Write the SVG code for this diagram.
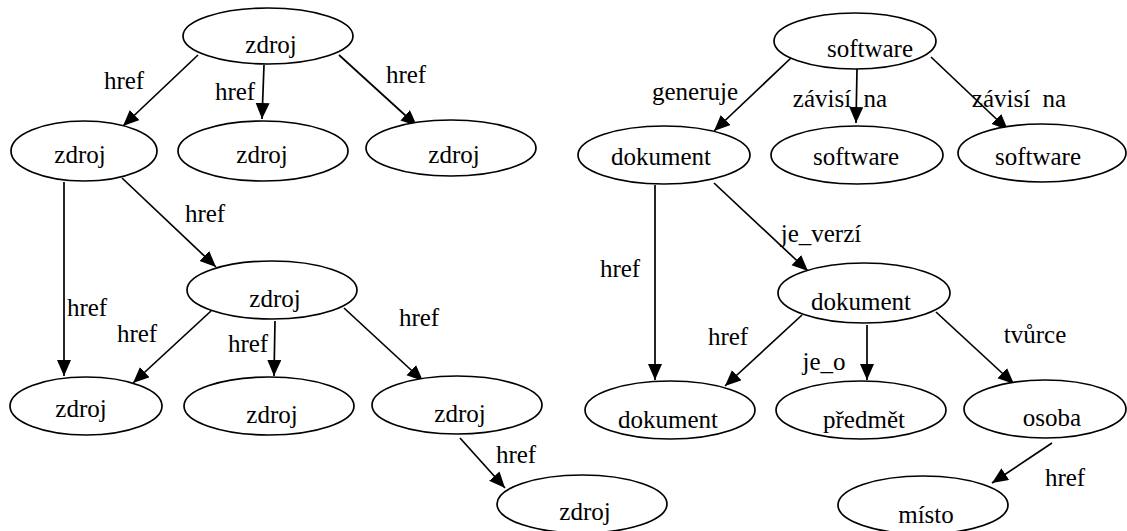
<svg xmlns="http://www.w3.org/2000/svg" width="1127" height="531" viewBox="0 0 1127 531">
<style>
.n ellipse{fill:#fff;stroke:#000;stroke-width:1.7}
text{font-family:"Liberation Serif",serif;font-size:25px;fill:#000;text-anchor:middle}
.c line{stroke:#000;stroke-width:1.7;marker-end:url(#ah)}
</style>
<defs>
<marker id="ah" markerUnits="userSpaceOnUse" markerWidth="18" markerHeight="16" refX="16" refY="7" orient="auto">
<path d="M0,0 L16,7 L0,14 z" fill="#000"/>
</marker>
</defs>
<rect width="1127" height="531" fill="#fff"/>
<g class="c" id="connectors">
<line x1="198" y1="55" x2="123" y2="126"/>
<line x1="264" y1="65" x2="262" y2="119"/>
<line x1="339" y1="55" x2="417" y2="126"/>
<line x1="64" y1="182" x2="64" y2="376"/>
<line x1="122" y1="178" x2="216" y2="267"/>
<line x1="211" y1="311" x2="133" y2="383"/>
<line x1="275" y1="321" x2="274" y2="376"/>
<line x1="344" y1="308" x2="423" y2="381"/>
<line x1="460" y1="438" x2="505" y2="488"/>
<line x1="791" y1="58" x2="714" y2="131"/>
<line x1="857" y1="69" x2="856" y2="123"/>
<line x1="931" y1="57" x2="1008" y2="130"/>
<line x1="655" y1="185" x2="655" y2="380"/>
<line x1="714" y1="183" x2="808" y2="271"/>
<line x1="802" y1="315" x2="725" y2="386"/>
<line x1="867" y1="325" x2="867" y2="380"/>
<line x1="936" y1="312" x2="1014" y2="384"/>
<line x1="1052" y1="443" x2="992" y2="483"/>
</g>
<g id="edge-labels" font-family="Liberation Serif">
<text x="124" y="89" font-family="Liberation Serif">href</text>
<text x="235" y="100" font-family="Liberation Serif">href</text>
<text x="406" y="83" font-family="Liberation Serif">href</text>
<text x="87" y="316" font-family="Liberation Serif">href</text>
<text x="205" y="222" font-family="Liberation Serif">href</text>
<text x="137" y="342" font-family="Liberation Serif">href</text>
<text x="248" y="352" font-family="Liberation Serif">href</text>
<text x="419" y="326" font-family="Liberation Serif">href</text>
<text x="516" y="463" font-family="Liberation Serif">href</text>
<text x="695" y="100" font-family="Liberation Serif">generuje</text>
<text x="840" y="107" font-family="Liberation Serif" xml:space="preserve">závisí  na</text>
<text x="1019" y="107" font-family="Liberation Serif" xml:space="preserve">závisí  na</text>
<text x="620" y="277" font-family="Liberation Serif">href</text>
<text x="821" y="242" font-family="Liberation Serif">je_verzí</text>
<text x="728" y="345" font-family="Liberation Serif">href</text>
<text x="824" y="370" font-family="Liberation Serif">je_o</text>
<text x="1035" y="343" font-family="Liberation Serif">tvůrce</text>
<text x="1065" y="486" font-family="Liberation Serif">href</text>
</g>
<g class="n" id="n1"><ellipse cx="268" cy="36" rx="85" ry="28"/><text x="271" y="53">zdroj</text></g>
<g class="n" id="n2"><ellipse cx="84" cy="151" rx="73" ry="30"/><text x="80" y="163">zdroj</text></g>
<g class="n" id="n3"><ellipse cx="263" cy="151" rx="85" ry="30"/><text x="262" y="163">zdroj</text></g>
<g class="n" id="n4"><ellipse cx="451" cy="148" rx="85" ry="28"/><text x="454" y="163">zdroj</text></g>
<g class="n" id="n5"><ellipse cx="272" cy="290" rx="85" ry="29"/><text x="275" y="307">zdroj</text></g>
<g class="n" id="n6"><ellipse cx="86" cy="406" rx="76" ry="29"/><text x="81" y="417">zdroj</text></g>
<g class="n" id="n7"><ellipse cx="269" cy="406" rx="85" ry="29"/><text x="272" y="423">zdroj</text></g>
<g class="n" id="n8"><ellipse cx="457" cy="405" rx="85" ry="29"/><text x="460" y="422">zdroj</text></g>
<g class="n" id="n9"><ellipse cx="582" cy="504" rx="85" ry="29"/><text x="585" y="520">zdroj</text></g>
<g class="n" id="m1"><ellipse cx="855" cy="41" rx="81" ry="28"/><text x="870" y="57">software</text></g>
<g class="n" id="m2"><ellipse cx="664" cy="155" rx="86" ry="29"/><text x="661" y="165">dokument</text></g>
<g class="n" id="m3"><ellipse cx="857" cy="155" rx="86" ry="29"/><text x="856" y="165">software</text></g>
<g class="n" id="m4"><ellipse cx="1042" cy="153" rx="84" ry="29"/><text x="1038" y="165">software</text></g>
<g class="n" id="m5"><ellipse cx="864" cy="293" rx="86" ry="30"/><text x="861" y="310">dokument</text></g>
<g class="n" id="m6"><ellipse cx="670" cy="410" rx="85" ry="29"/><text x="668" y="428">dokument</text></g>
<g class="n" id="m7"><ellipse cx="861" cy="410" rx="85" ry="29"/><text x="864" y="428">předmět</text></g>
<g class="n" id="m8"><ellipse cx="1045" cy="409" rx="81" ry="29"/><text x="1052" y="426">osoba</text></g>
<g class="n" id="m9"><ellipse cx="923" cy="505" rx="85" ry="29"/><text x="926" y="523">místo</text></g>
</svg>
